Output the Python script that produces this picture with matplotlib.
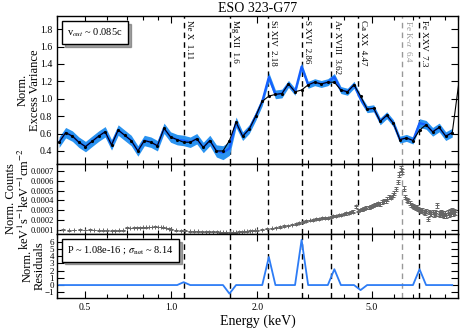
import numpy as np
import matplotlib.pyplot as plt
from matplotlib.patches import Rectangle
from matplotlib.ticker import FixedLocator, FormatStrFormatter, NullFormatter, LogLocator

plt.rcParams['font.family'] = ['Liberation Serif', 'DejaVu Serif']
plt.rcParams['mathtext.fontset'] = 'stix'
plt.rcParams['xtick.direction'] = 'in'
plt.rcParams['ytick.direction'] = 'in'
plt.rcParams['xtick.top'] = True
plt.rcParams['ytick.right'] = True

# excess variance spectrum (bins), data vs model
ev_energy = [0.407, 0.429, 0.453, 0.477, 0.503, 0.530, 0.559, 0.589, 0.620, 0.654,
             0.689, 0.726, 0.766, 0.807, 0.851, 0.896, 0.945, 0.996, 1.050, 1.106,
             1.166, 1.229, 1.295, 1.365, 1.439, 1.517, 1.598, 1.685, 1.776, 1.872,
             1.973, 2.079, 2.192, 2.311, 2.435, 2.566, 2.705, 2.851, 3.005, 3.168,
             3.338, 3.519, 3.709, 3.909, 4.120, 4.343, 4.577, 4.825, 5.085, 5.359,
             5.649, 5.954, 6.276, 6.615, 6.972, 7.349, 7.746, 8.164, 8.605, 9.069,
             9.557]
ev_data = [0.50, 0.61, 0.57, 0.50, 0.45, 0.51, 0.57, 0.62, 0.47, 0.64,
           0.58, 0.52, 0.40, 0.52, 0.50, 0.46, 0.66, 0.56, 0.53, 0.52,
           0.50, 0.54, 0.44, 0.52, 0.40, 0.38, 0.43, 0.73, 0.57, 0.65,
           0.80, 0.97, 1.25, 1.05, 1.06, 1.17, 1.08, 1.37, 1.16, 1.19,
           1.17, 1.19, 1.25, 1.10, 1.08, 1.16, 1.00, 0.88, 0.89, 0.74,
           0.81, 0.72, 0.53, 0.55, 0.52, 0.72, 0.70, 0.62, 0.67, 0.57,
           0.61]
ev_err = [0.06, 0.06, 0.06, 0.06, 0.06, 0.06, 0.06, 0.06, 0.06, 0.06,
          0.06, 0.06, 0.06, 0.06, 0.06, 0.06, 0.06, 0.06, 0.06, 0.06,
          0.06, 0.06, 0.06, 0.06, 0.07, 0.08, 0.08, 0.06, 0.05, 0.05,
          0.05, 0.05, 0.05, 0.05, 0.05, 0.04, 0.04, 0.04, 0.04, 0.04,
          0.04, 0.04, 0.04, 0.04, 0.04, 0.04, 0.04, 0.04, 0.04, 0.04,
          0.04, 0.04, 0.04, 0.04, 0.04, 0.05, 0.05, 0.05, 0.05, 0.05,
          0.05]
model_energy = ev_energy + [10.09]
model_val = [0.50, 0.61, 0.57, 0.50, 0.45, 0.51, 0.57, 0.62, 0.47, 0.64,
             0.58, 0.52, 0.40, 0.52, 0.50, 0.46, 0.66, 0.56, 0.53, 0.50,
             0.50, 0.54, 0.44, 0.52, 0.40, 0.40, 0.52, 0.73, 0.57, 0.65,
             0.80, 0.97, 1.03, 1.05, 1.06, 1.17, 1.08, 1.10, 1.16, 1.19,
             1.17, 1.19, 1.19, 1.10, 1.08, 1.16, 1.03, 0.88, 0.89, 0.74,
             0.81, 0.72, 0.53, 0.55, 0.52, 0.64, 0.70, 0.62, 0.67, 0.57,
             0.61, 1.20]
resid = [0, 0, 0, 0, 0, 0, 0, 0, 0, 0,
         0, 0, 0, 0, 0, 0, 0, 0, 0, 0.4,
         0, 0, 0, 0, 0, 0, -1.2, 0, 0, 0,
         0, 0, 3.9, 0, 0, 0, 0, 6.3, 0, 0,
         0, 0, 2.2, 0, 0, 0, -0.7, 0, 0, 0,
         0, 0, 0, 0, 0, 2.2, 0, 0, 0, 0,
         0]

# count spectrum (units of 1e-4)
spec_energy = [0.40, 0.42, 0.44, 0.46, 0.48, 0.50, 0.52, 0.54, 0.56, 0.58, 0.60, 0.62,
               0.64, 0.66, 0.68, 0.70, 0.72, 0.74, 0.76, 0.78, 0.80, 0.82, 0.84, 0.86,
               0.88, 0.90, 0.92, 0.94, 0.96, 0.98, 1.00,
               1.04, 1.08, 1.12, 1.16, 1.20, 1.24, 1.28, 1.32, 1.36, 1.40, 1.44, 1.48,
               1.52, 1.56, 1.60, 1.64, 1.68, 1.72, 1.76, 1.80, 1.84, 1.88, 1.92, 1.96, 2.00,
               2.08, 2.16, 2.24, 2.32, 2.40, 2.48, 2.56, 2.64, 2.72, 2.80, 2.88, 2.96,
               3.04, 3.12, 3.20, 3.28, 3.36, 3.44, 3.52, 3.60, 3.68, 3.76, 3.84, 3.92,
               4.00, 4.08, 4.16, 4.24, 4.32, 4.40, 4.48, 4.56, 4.64, 4.72, 4.80, 4.88,
               4.96, 5.04,
               5.12, 5.20, 5.28, 5.36, 5.44, 5.52, 5.60, 5.68, 5.76, 5.84, 5.92, 6.00,
               6.08, 6.16, 6.24, 6.32, 6.40, 6.48, 6.56, 6.64, 6.72, 6.80, 6.88, 6.96,
               7.04, 7.12, 7.20, 7.28, 7.36, 7.44, 7.52, 7.60, 7.68, 7.76, 7.84, 7.92,
               8.00, 8.08, 8.16, 8.24, 8.32, 8.40, 8.48, 8.56, 8.64, 8.72, 8.80, 8.88,
               8.96, 9.04, 9.12, 9.20, 9.28, 9.36, 9.44, 9.52, 9.60, 9.68, 9.76]
spec_flux = [1.00, 1.02, 0.99, 1.01, 1.03, 1.00, 1.02, 1.01, 0.98, 0.97, 0.99, 0.95,
             0.94, 0.96, 0.98, 1.22, 1.20, 1.23, 1.25, 1.24, 1.27, 1.28, 1.30, 1.31,
             1.33, 1.32, 1.30, 1.26, 1.20, 1.15, 1.08,
             1.00, 0.95, 0.93, 0.90, 0.88, 0.86, 0.85, 0.84, 0.83, 0.82, 0.81, 0.80,
             0.79, 0.79, 0.78, 0.79, 0.80, 0.82, 0.84, 0.86, 0.89, 0.92, 0.95, 0.98, 1.00,
             1.05, 1.12, 1.17, 1.22, 1.30, 1.40, 1.46, 1.55, 1.62, 1.74, 1.84, 1.90,
             1.98, 2.05, 2.12, 2.15, 2.18, 2.20, 2.25, 2.33, 2.40, 2.45, 2.50, 2.55,
             2.62, 2.68, 2.74, 2.80, 2.88, 3.40, 2.96, 3.05, 3.12, 3.15, 3.25, 3.30,
             3.38, 3.45,
             3.55, 3.62, 3.70, 3.65, 3.85, 3.95, 3.90, 4.15, 4.35, 4.30, 4.55, 4.75,
             5.20, 5.85, 6.60, 7.25, 6.90, 5.20, 4.40, 4.05, 3.90, 3.75, 3.55, 3.45,
             3.35, 3.20, 3.30, 3.10, 3.05, 2.95, 3.00, 2.85, 2.75, 2.90, 2.15, 2.80,
             2.70, 2.65, 2.85, 2.60, 2.75, 2.70, 3.50, 2.65, 2.55, 2.80, 2.60, 2.70,
             2.45, 2.65, 2.50, 2.75, 2.55, 2.85, 2.65, 3.00, 2.70, 2.90, 2.80]
spec_err = [0.04, 0.04, 0.04, 0.04, 0.04, 0.04, 0.04, 0.04, 0.04, 0.04, 0.04, 0.04,
            0.04, 0.04, 0.04, 0.04, 0.04, 0.04, 0.04, 0.04, 0.04, 0.04, 0.04, 0.04,
            0.04, 0.04, 0.04, 0.04, 0.04, 0.04, 0.04,
            0.05, 0.05, 0.05, 0.05, 0.05, 0.05, 0.05, 0.05, 0.05, 0.05, 0.05, 0.05,
            0.05, 0.05, 0.05, 0.05, 0.05, 0.05, 0.05, 0.05, 0.05, 0.05, 0.05, 0.05, 0.05,
            0.06, 0.06, 0.06, 0.06, 0.07, 0.07, 0.07, 0.07, 0.08, 0.08, 0.08, 0.08,
            0.09, 0.09, 0.09, 0.09, 0.10, 0.10, 0.10, 0.10, 0.11, 0.11, 0.11, 0.11,
            0.12, 0.12, 0.12, 0.12, 0.13, 0.13, 0.13, 0.13, 0.14, 0.14, 0.14, 0.14,
            0.15, 0.15,
            0.16, 0.16, 0.16, 0.17, 0.17, 0.17, 0.18, 0.18, 0.18, 0.19, 0.19, 0.20,
            0.20, 0.22, 0.24, 0.25, 0.25, 0.22, 0.20, 0.20, 0.20, 0.20, 0.20, 0.20,
            0.20, 0.20, 0.20, 0.21, 0.21, 0.21, 0.21, 0.22, 0.22, 0.22, 0.22, 0.22,
            0.23, 0.23, 0.23, 0.23, 0.24, 0.24, 0.24, 0.24, 0.25, 0.25, 0.25, 0.25,
            0.26, 0.26, 0.26, 0.26, 0.27, 0.27, 0.27, 0.28, 0.28, 0.28, 0.28]

line_energy = [1.11, 1.6, 2.18, 2.86, 3.62, 4.47, 6.4, 7.3]
line_label = ['Ne X  1.11', 'Mg XII  1.6', 'Si XIV  2.18', 'S XVI  2.86',
              'Ar XVIII  3.62', 'Ca XX  4.47', r'Fe K-$\alpha$  6.4', 'Fe XXV  7.3']
line_color = ['k', 'k', 'k', 'k', 'k', 'k', '0.6', 'k']

ev_lo = [d - e for d, e in zip(ev_data, ev_err)]
ev_hi = [d + e for d, e in zip(ev_data, ev_err)]

fig = plt.figure(figsize=(4.63, 3.28), dpi=100)
ax1 = fig.add_axes([0.123, 0.5, 0.866, 0.451])
ax2 = fig.add_axes([0.123, 0.2866, 0.866, 0.2134], sharex=ax1)
ax3 = fig.add_axes([0.123, 0.0915, 0.866, 0.195], sharex=ax1)

# top panel
ax1.fill_between(ev_energy, ev_lo, ev_hi, color='#2a93f0', lw=0)
ax1.plot(ev_energy, ev_data, color='#1560ff', lw=1.6)
ax1.plot(model_energy, model_val, color='k', lw=0.8, marker='.', ms=2.5)
ax1.set_ylim(0.25, 1.95)
ax1.yaxis.set_major_locator(FixedLocator([0.4, 0.6, 0.8, 1.0, 1.2, 1.4, 1.6, 1.8]))
ax1.yaxis.set_major_formatter(FormatStrFormatter('%.1f'))
ax1.set_ylabel('Norm.\nExcess Variance', fontsize=9, linespacing=1.0)
ax1.yaxis.set_label_coords(-0.04, 0.5)
ax1.set_title('ESO 323-G77', fontsize=10, pad=3)

h = Rectangle((0, 0), 0, 0, alpha=0)
ax1.legend([h], [r'v$_{out}$ ~ 0.085c'], loc='upper left', handlelength=0,
           handletextpad=0, fancybox=False, shadow=True, framealpha=1,
           edgecolor='k', fontsize=7.5, borderpad=0.5)

# middle panel
ax2.errorbar(spec_energy, [f * 1e-4 for f in spec_flux],
             yerr=[e * 1e-4 for e in spec_err], fmt='+', color='0.4',
             ms=3, mew=0.7, elinewidth=0.7, capsize=1.2)
ax2.set_ylim(0.00006, 0.00077)
ax2.yaxis.set_major_locator(FixedLocator([0.0001, 0.0002, 0.0003, 0.0004,
                                          0.0005, 0.0006, 0.0007]))
ax2.yaxis.set_major_formatter(FormatStrFormatter('%.4f'))
ax2.set_ylabel('Norm. Counts\nkeV$^{1}$s$^{-1}$keV$^{-1}$cm$^{-2}$',
               fontsize=9, linespacing=1.0)
ax2.yaxis.set_label_coords(-0.062, 0.5)

# bottom panel
ax3.plot(ev_energy, resid, color='#2d7cf5', lw=1.3)
ax3.set_ylim(-1.8, 7.1)
ax3.yaxis.set_major_locator(FixedLocator([-1, 0, 1, 2, 3, 4, 5, 6]))
ax3.set_ylabel('Norm.\nResiduals', fontsize=9, linespacing=1.0)
ax3.yaxis.set_label_coords(-0.028, 0.5)
ax3.set_xlabel('Energy (keV)', fontsize=10, labelpad=2)
ax3.legend([h], [r'P ~ 1.08e-16 ; $\sigma_{\rm net}$ ~ 8.14'], loc='upper left',
           handlelength=0, handletextpad=0, fancybox=False, shadow=True,
           framealpha=1, edgecolor='k', fontsize=7.5, borderpad=0.5)

for ax in (ax1, ax2, ax3):
    ax.set_xscale('log')
    ax.set_xlim(0.4, 10)
    ax.xaxis.set_major_locator(FixedLocator([0.5, 1.0, 2.0, 5.0]))
    ax.xaxis.set_minor_locator(LogLocator(base=10, subs=np.arange(1, 10)))
    ax.xaxis.set_minor_formatter(NullFormatter())
    ax.tick_params(which='both', labelsize=7, width=0.8)
    ax.tick_params(which='major', length=5)
    ax.tick_params(which='minor', length=3)
    for s in ax.spines.values():
        s.set_linewidth(1.0)
    for e, c in zip(line_energy, line_color):
        ax.axvline(e, color=c, ls=(0, (4, 3)), lw=1.0, zorder=0.5)

ax2.tick_params(axis='y', labelsize=6, pad=2)
ax3.tick_params(axis='y', labelsize=6.5, pad=2)
ax3.xaxis.set_major_formatter(FormatStrFormatter('%.1f'))
plt.setp(ax1.get_xticklabels(), visible=False)
plt.setp(ax2.get_xticklabels(), visible=False)

for e, lab, c in zip(line_energy, line_label, line_color):
    ax1.text(e * 1.01, 0.975, lab, rotation=270, ha='left', va='top',
             fontsize=6.5, color=c, transform=ax1.get_xaxis_transform())

fig.savefig('out.png', dpi=100)
